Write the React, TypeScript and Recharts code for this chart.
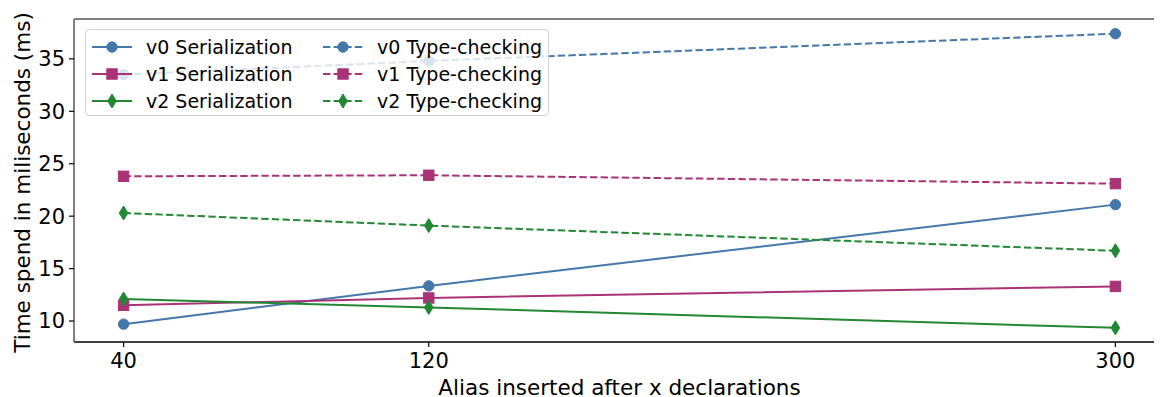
import React from 'react';
import { LineChart, Line, XAxis, YAxis, ReferenceLine, Legend, Label } from 'recharts';

const xValues = [40, 120, 300];
const v0Serialization = [9.7, 13.35, 21.1];
const v1Serialization = [11.5, 12.2, 13.3];
const v2Serialization = [12.1, 11.3, 9.35];
const v0TypeChecking = [33.5, 34.8, 37.4];
const v1TypeChecking = [23.8, 23.9, 23.1];
const v2TypeChecking = [20.3, 19.1, 16.7];
const xTicks = [40, 120, 300];
const yTicks = [10, 15, 20, 25, 30, 35];
const seriesNames = [
  'v0 Serialization',
  'v1 Serialization',
  'v2 Serialization',
  'v0 Type-checking',
  'v1 Type-checking',
  'v2 Type-checking',
];
const xLabel = 'Alias inserted after x declarations';
const yLabel = 'Time spend in miliseconds (ms)';

const BLUE = '#4477AA';
const MAGENTA = '#AA3377';
const GREEN = '#228833';
const FONT = '"DejaVu Sans", sans-serif';
const LEGEND_FS = 19;
const TICK_FS = 21;
const LABEL_FS = 21.5;
const LW = 2;
const DASH = '7.4 3.2';

type Shape = 'circle' | 'square' | 'diamond';

const series: { key: string; name: string; values: number[]; color: string; shape: Shape; dashed: boolean }[] = [
  { key: 's0', name: seriesNames[0], values: v0Serialization, color: BLUE, shape: 'circle', dashed: false },
  { key: 's1', name: seriesNames[1], values: v1Serialization, color: MAGENTA, shape: 'square', dashed: false },
  { key: 's2', name: seriesNames[2], values: v2Serialization, color: GREEN, shape: 'diamond', dashed: false },
  { key: 't0', name: seriesNames[3], values: v0TypeChecking, color: BLUE, shape: 'circle', dashed: true },
  { key: 't1', name: seriesNames[4], values: v1TypeChecking, color: MAGENTA, shape: 'square', dashed: true },
  { key: 't2', name: seriesNames[5], values: v2TypeChecking, color: GREEN, shape: 'diamond', dashed: true },
];

const data = xValues.map((x, i) => {
  const row: Record<string, number> = { x };
  series.forEach((s) => {
    row[s.key] = s.values[i];
  });
  return row;
});

const MarkerShape = ({ cx, cy, shape, color }: { cx: number; cy: number; shape: Shape; color: string }) => {
  if (shape === 'circle') return <circle cx={cx} cy={cy} r={5.2} fill={color} stroke={color} strokeWidth={1} />;
  if (shape === 'square')
    return <rect x={cx - 5.2} y={cy - 5.2} width={10.4} height={10.4} fill={color} stroke={color} strokeWidth={1} />;
  return (
    <polygon
      points={`${cx},${cy - 7} ${cx + 4.3},${cy} ${cx},${cy + 7} ${cx - 4.3},${cy}`}
      fill={color}
      stroke={color}
      strokeWidth={1}
    />
  );
};

const LegendItem = ({ s }: { s: (typeof series)[number] }) => (
  <div style={{ display: 'flex', alignItems: 'center', height: 27 }}>
    <svg width={40} height={16} style={{ display: 'block' }}>
      <line
        x1={0}
        y1={8}
        x2={40}
        y2={8}
        stroke={s.color}
        strokeWidth={LW}
        strokeDasharray={s.dashed ? DASH : undefined}
      />
      <MarkerShape cx={20} cy={8} shape={s.shape} color={s.color} />
    </svg>
    <span style={{ marginLeft: 14, fontFamily: FONT, fontSize: LEGEND_FS, color: '#000', whiteSpace: 'nowrap' }}>
      {s.name}
    </span>
  </div>
);

const renderLegend = () => (
  <div
    style={{
      background: 'rgba(255,255,255,0.8)',
      border: '1px solid #d0d0d0',
      borderRadius: 4,
      padding: '3px 6px 3px 6px',
      display: 'flex',
      boxSizing: 'border-box',
      width: 464,
      height: 87,
    }}
  >
    <div style={{ width: 236 }}>
      {series.slice(0, 3).map((s) => (
        <LegendItem key={s.key} s={s} />
      ))}
    </div>
    <div>
      {series.slice(3).map((s) => (
        <LegendItem key={s.key} s={s} />
      ))}
    </div>
  </div>
);

export default function App() {
  return (
    <div style={{ width: 1154, height: 389, overflow: 'hidden' }}>
      <LineChart width={1157} height={389} data={data} margin={{ top: 11, right: 0, bottom: 0, left: 0 }}>
        <XAxis
          dataKey="x"
          type="number"
          domain={[27, 313]}
          ticks={xTicks}
          allowDataOverflow
          height={55}
          tickSize={5}
          tickMargin={6}
          axisLine={{ stroke: '#000', strokeWidth: 1.5 }}
          tickLine={{ stroke: '#000', strokeWidth: 1.2 }}
          tick={{ fill: '#000', fontSize: TICK_FS, fontFamily: FONT }}
        >
          <Label
            content={({ viewBox }: any) => (
              <text
                x={viewBox.x + viewBox.width / 2}
                y={387}
                textAnchor="middle"
                style={{ fill: '#000', fontSize: LABEL_FS, fontFamily: FONT }}
              >
                {xLabel}
              </text>
            )}
          />
        </XAxis>
        <YAxis
          type="number"
          domain={[8.0, 38.8]}
          ticks={yTicks}
          allowDataOverflow
          width={66}
          tickSize={5}
          tickMargin={4}
          axisLine={{ stroke: '#808080', strokeWidth: 2 }}
          tickLine={{ stroke: '#000', strokeWidth: 1.2 }}
          tick={{ fill: '#000', fontSize: TICK_FS, fontFamily: FONT }}
        >
          <Label
            content={({ viewBox }: any) => {
              const cy = viewBox.y + viewBox.height / 2 + 2;
              return (
                <text
                  x={14}
                  y={cy}
                  transform={`rotate(-90, 14, ${cy})`}
                  textAnchor="middle"
                  dominantBaseline="central"
                  style={{ fill: '#000', fontSize: LABEL_FS, fontFamily: FONT }}
                >
                  {yLabel}
                </text>
              );
            }}
          />
        </YAxis>
        <ReferenceLine y={38.8} stroke="#808080" strokeWidth={2} ifOverflow="extendDomain" />
        {series.map((s) => (
          <Line
            key={s.key}
            dataKey={s.key}
            name={s.name}
            type="linear"
            stroke={s.color}
            strokeWidth={LW}
            strokeDasharray={s.dashed ? DASH : undefined}
            isAnimationActive={false}
            dot={(p: any) => <MarkerShape key={`${s.key}-${p.index}`} cx={p.cx} cy={p.cy} shape={s.shape} color={s.color} />}
            activeDot={false}
            legendType="none"
          />
        ))}
        <Legend
          layout="horizontal"
          verticalAlign="middle"
          align="center"
          content={renderLegend}
          wrapperStyle={{ position: 'absolute', left: 77, top: 21, width: 464, height: 87 }}
        />
      </LineChart>
    </div>
  );
}
